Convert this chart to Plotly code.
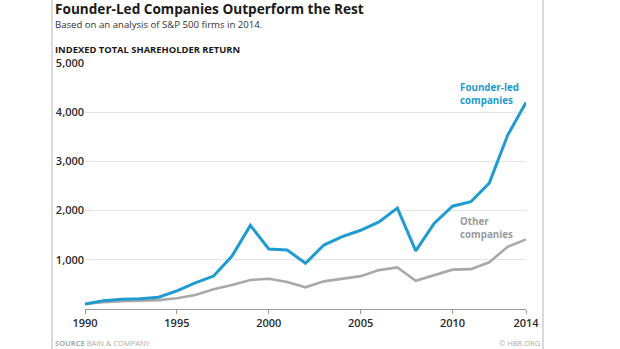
import plotly.graph_objects as go

# Indexed total shareholder return, 1990 = 100
years = list(range(1990, 2015))
founder_led = [100, 170, 200, 210, 240, 370, 530, 670, 1075, 1700, 1220, 1200, 930,
               1300, 1470, 1600, 1770, 2050, 1180, 1740, 2090, 2180, 2560, 3530, 4200]
other = [100, 140, 160, 170, 180, 217, 284, 400, 487, 590, 615, 548, 440,
         562, 622, 668, 790, 845, 575, 695, 800, 810, 950, 1265, 1415]
y_ticks = [1000, 2000, 3000, 4000, 5000]
x_ticks = [1990, 1995, 2000, 2005, 2010, 2014]

W, H = 620, 349
L, R, T, B = 85, 94, 63, 40
PW, PH = W - L - R, H - T - B

def px(x):
    return (x - L) / PW

def py(y):
    return (H - B - y) / PH

BLUE = "#1f9bcf"
GRAY = "#a9a9a9"
FONT = "Open Sans"
TICKFONT = dict(size=11, color="#2a2a2a", family=FONT, weight=600)

fig = go.Figure()
fig.add_trace(go.Scatter(x=years, y=other, mode="lines",
                         line=dict(color=GRAY, width=2.6), hoverinfo="skip"))
fig.add_trace(go.Scatter(x=years, y=founder_led, mode="lines",
                         line=dict(color=BLUE, width=3), hoverinfo="skip"))

fig.update_layout(
    width=W, height=H,
    margin=dict(l=L, r=R, t=T, b=B),
    plot_bgcolor="white", paper_bgcolor="white",
    showlegend=False,
    font=dict(family=FONT, color="#333"),
    xaxis=dict(range=[1990, 2014], tickvals=x_ticks, ticktext=[str(v) for v in x_ticks],
               showgrid=False, zeroline=False, showline=True, linecolor="#9a9a9a",
               linewidth=1, ticks="outside", ticklen=4, tickcolor="#9a9a9a",
               tickfont=TICKFONT),
    yaxis=dict(range=[0, 5000], tickvals=y_ticks,
               ticktext=[f"{v:,}" for v in y_ticks],
               showgrid=True, gridcolor="#e4e4e4", gridwidth=1, zeroline=False,
               showline=False, ticks="", tickfont=TICKFONT),
)

annotations = [
    dict(text="<b>Founder-Led Companies Outperform the Rest</b>", x=px(53), y=py(8.5),
         font=dict(size=13.6, color="#1a1a1a")),
    dict(text="Based on an analysis of S&P 500 firms in 2014.", x=px(53), y=py(24.5),
         font=dict(size=9.6, color="#333")),
    dict(text="<b>INDEXED TOTAL SHAREHOLDER RETURN</b>", x=px(53), y=py(49.5),
         font=dict(size=9.4, color="#1a1a1a")),
    dict(text="<b>Founder-led<br>companies</b>", x=px(458), y=py(94),
         font=dict(size=9.8, color=BLUE)),
    dict(text="<b>Other<br>companies</b>", x=px(458), y=py(228),
         font=dict(size=9.8, color="#9a9a9a")),
    dict(text="<b>SOURCE</b> BAIN & COMPANY", x=px(53), y=py(343),
         font=dict(size=7.5, color="#ababab")),
    dict(text="© HBR.ORG", x=px(542), y=py(343), xanchor="right",
         font=dict(size=7.5, color="#ababab")),
]
for a in annotations:
    a.setdefault("xanchor", "left")
    a.update(xref="paper", yref="paper", yanchor="middle", showarrow=False, align="left")
    a["font"].setdefault("family", FONT)
fig.update_layout(annotations=annotations)

# Frame rules at the left and right edges of the graphic
for xpix in (52, 543):
    fig.add_shape(type="line", xref="paper", yref="paper",
                  x0=px(xpix), x1=px(xpix), y0=py(0), y1=py(H),
                  line=dict(color="#b5b5b5", width=1))

fig.write_html("out.html")
